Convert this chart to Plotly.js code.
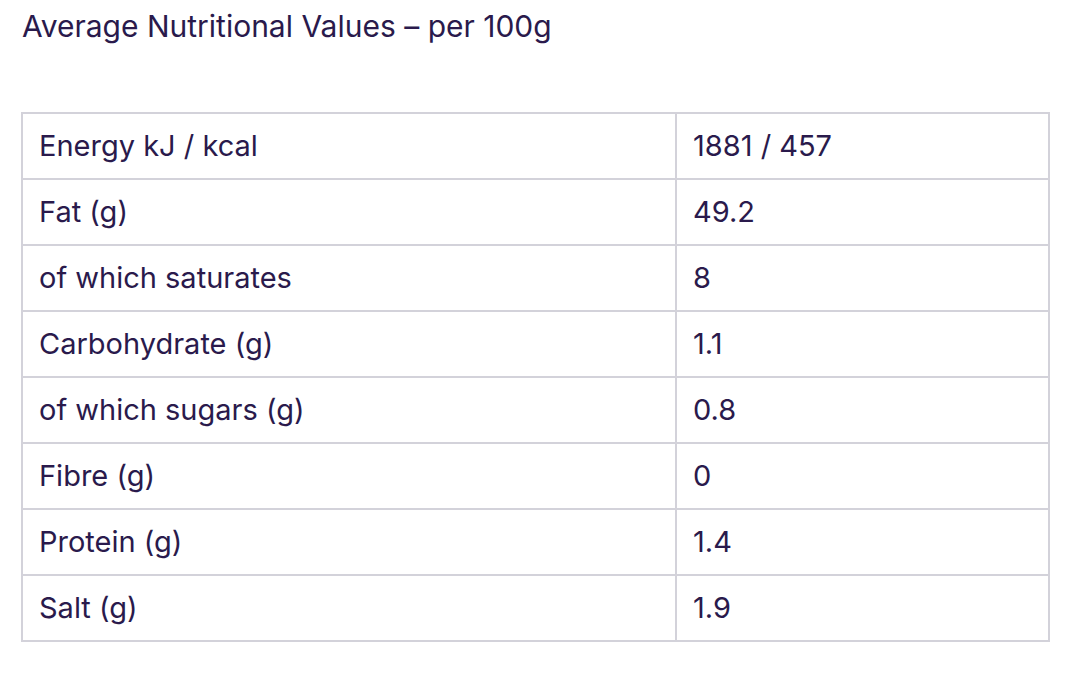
<!DOCTYPE html>
<html>
<head>
<meta charset="utf-8">
<script src="https://cdn.plot.ly/plotly-3.0.1.min.js"></script>
<style>
  html, body { margin: 0; padding: 0; background: #fff; }
  #chart { width: 1074px; height: 696px; }
  /* nudge cell text: more left padding, vertically centred like the original */
  #chart .cell-text { transform: translate(9px, 13px); }
</style>
</head>
<body>
<div id="chart"></div>
<script>
const nutrients = [
    "Energy kJ / kcal",
    "Fat (g)",
    "of which saturates",
    "Carbohydrate (g)",
    "of which sugars (g)",
    "Fibre (g)",
    "Protein (g)",
    "Salt (g)"
];

const amounts = ["1881 / 457", "49.2", "8", "1.1", "0.8", "0", "1.4", "1.9"];

const textColor = "#2a1a4c";
const lineColor = "#d3d2da";
const W = 1074, H = 696;

// first row goes in the header so the table has no extra header band
const cellStyle = {
    height: 66,
    align: "left",
    line: {color: lineColor, width: 2},
    fill: {color: "#ffffff"},
    font: {family: "Inter, Lato, sans-serif", size: 29, color: textColor}
};

const trace = {
    type: "table",
    domain: {x: [22 / W, 1049 / W], y: [0, 1 - 113 / H]},
    columnwidth: [654, 373],
    header: Object.assign({
        values: [[nutrients[0]], [amounts[0]]]
    }, cellStyle),
    cells: Object.assign({
        values: [nutrients.slice(1), amounts.slice(1)]
    }, cellStyle)
};

const layout = {
    title: {
        text: "Average Nutritional Values \u2013 per 100g",
        x: 22 / W,
        xanchor: "left",
        xref: "paper",
        y: 1 - 26 / H,
        yanchor: "middle",
        yref: "container",
        font: {family: "Inter, Lato, sans-serif", size: 30, color: textColor}
    },
    width: W,
    height: H,
    margin: {t: 0, r: 0, b: 0, l: 0},
    paper_bgcolor: "#ffffff"
};

Plotly.newPlot("chart", [trace], layout, {displayModeBar: false});
</script>
</body>
</html>
